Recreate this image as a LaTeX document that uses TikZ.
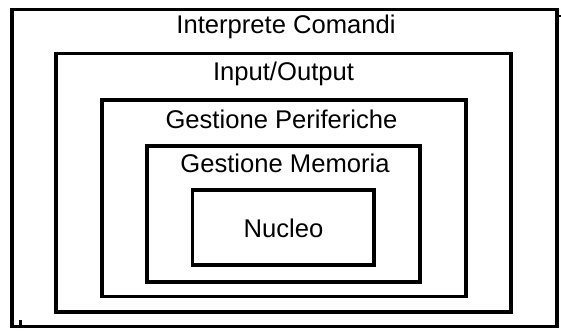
\documentclass[tikz,border=0pt]{standalone}
\usepackage{fontspec}
\setmainfont{Liberation Sans}
\begin{document}
\begin{tikzpicture}[x=1pt,y=-1pt,
  layer/.style={draw=black, line width=3.6pt, rectangle, inner sep=0pt, outer sep=0pt, miter limit=10},
  caption/.style={anchor=base, inner sep=0pt, font=\fontsize{25.6}{29}\selectfont}]
\useasboundingbox (0,0) rectangle (561,334);
% nested layers, outermost first
\node[layer, minimum width=545pt, minimum height=317pt] (shell) at (284.5,168) {};
\node[layer, minimum width=455pt, minimum height=258.5pt] (io) at (283.5,182.75) {};
\node[layer, minimum width=364pt, minimum height=196.5pt] (dev) at (284,198.25) {};
\node[layer, minimum width=273pt, minimum height=136pt] (mem) at (283.5,214) {};
\node[layer, minimum width=181.5pt, minimum height=75pt] (core) at (283.25,227.5) {};
% layer titles
\node[caption] (tshell) at (286,34) {Interprete Comandi};
\node[caption] (tio) at (283.5,81) {Input/Output};
\node[caption] (tdev) at (281.5,128) {Gestione Periferiche};
\node[caption] (tmem) at (285,172) {Gestione Memoria};
\node[caption] (tcore) at (283.5,237) {Nucleo};
% small stubs at two corners of the outer frame
\draw[line width=2pt] ([xshift=1.8pt,yshift=-7pt]shell.north east) -- ++(3pt,0);
\draw[line width=3pt] ([xshift=8pt,yshift=-1.8pt]shell.south west) -- ++(0,8pt);
\end{tikzpicture}
\end{document}
